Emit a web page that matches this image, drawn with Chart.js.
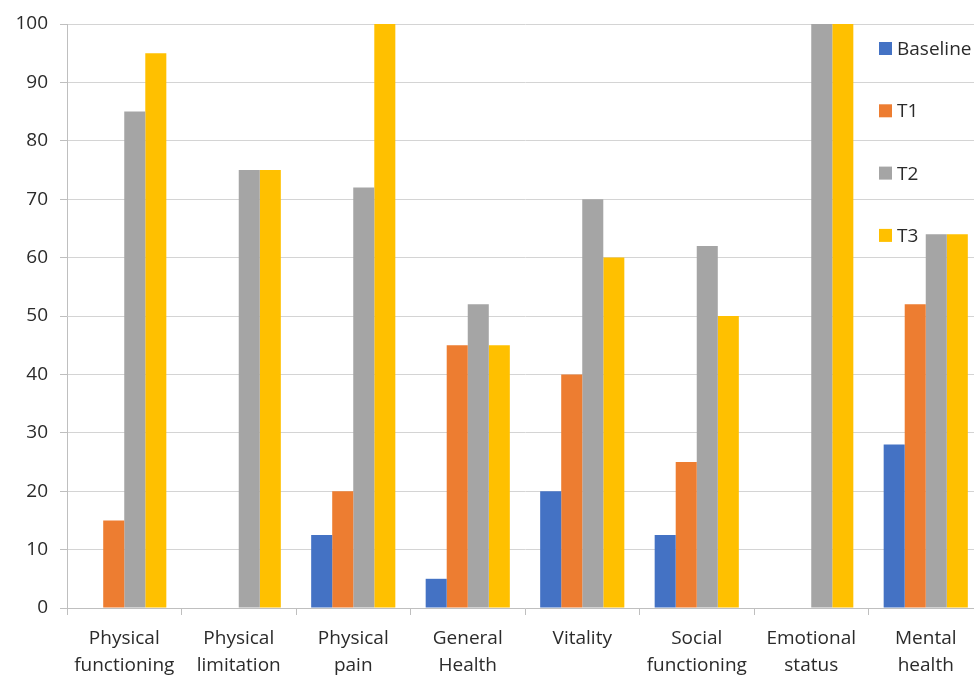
<!DOCTYPE html>
<html>
<head>
<meta charset="utf-8">
<script src="https://cdn.jsdelivr.net/npm/chart.js@4.4.1/dist/chart.umd.min.js"></script>
<style>
  html, body { margin: 0; padding: 0; background: #fff; overflow: hidden; }
  #wrap { width: 1000px; height: 690px; }
</style>
</head>
<body>
<div id="wrap"><canvas id="chart" width="1000" height="690"></canvas></div>
<script>
const categories = [
  ['Physical', 'functioning'],
  ['Physical', 'limitation'],
  ['Physical', 'pain'],
  ['General', 'Health'],
  ['Vitality'],
  ['Social', 'functioning'],
  ['Emotional', 'status'],
  ['Mental', 'health']
];
const seriesNames = ['Baseline', 'T1', 'T2', 'T3'];
const baseline = [0, 0, 12.5, 5, 20, 12.5, 0, 28];
const t1 = [15, 0, 20, 45, 40, 25, 0, 52];
const t2 = [85, 75, 72, 52, 70, 62, 100, 64];
const t3 = [95, 75, 100, 45, 60, 50, 100, 64];
const colors = ['#4472C4', '#ED7D31', '#A5A5A5', '#FFC000'];
const yTicks = [0, 10, 20, 30, 40, 50, 60, 70, 80, 90, 100];

const fontFamily = '"Open Sans", "Noto Sans", sans-serif';
const textColor = '#2b2b2b';

// legend drawn inside the plot, top right (as in the original)
const sideLegend = {
  id: 'sideLegend',
  afterDraw(chart) {
    const ctx = chart.ctx;
    ctx.save();
    ctx.font = '19px ' + fontFamily;
    ctx.textBaseline = 'middle';
    chart.data.datasets.forEach((ds, i) => {
      const y = 48.5 + i * 62.3;
      ctx.fillStyle = ds.backgroundColor;
      ctx.fillRect(879, y - 6.5, 13, 13);
      ctx.fillStyle = textColor;
      ctx.fillText(ds.label, 897, y + 1);
    });
    ctx.restore();
  }
};

new Chart(document.getElementById('chart'), {
  type: 'bar',
  data: {
    labels: categories,
    datasets: [baseline, t1, t2, t3].map((d, i) => ({
      label: seriesNames[i],
      data: d,
      backgroundColor: colors[i],
      borderWidth: 0,
      barPercentage: 1,
      categoryPercentage: 0.735
    }))
  },
  options: {
    responsive: false,
    animation: false,
    layout: { padding: { left: 0, right: 17, top: 24, bottom: 0 } },
    plugins: { legend: { display: false }, tooltip: { enabled: false } },
    scales: {
      y: {
        min: 0,
        max: 100,
        afterBuildTicks(axis) { axis.ticks = yTicks.map(v => ({ value: v })); },
        afterFit(axis) { axis.width = 67; },
        border: { color: '#bfbfbf', width: 1 },
        grid: { color: '#d4d4d4', lineWidth: 1, tickLength: 7, tickColor: '#bfbfbf' },
        ticks: { color: textColor, font: { family: fontFamily, size: 19 }, padding: 12 }
      },
      x: {
        afterFit(axis) { axis.height = 690 - 608; },
        border: { color: '#bfbfbf', width: 1 },
        grid: { drawOnChartArea: false, tickLength: 7, color: '#bfbfbf' },
        ticks: {
          color: textColor,
          font: { family: fontFamily, size: 19, lineHeight: 1.42 },
          padding: 10,
          maxRotation: 0,
          autoSkip: false
        }
      }
    }
  },
  plugins: [sideLegend]
});
</script>
</body>
</html>
